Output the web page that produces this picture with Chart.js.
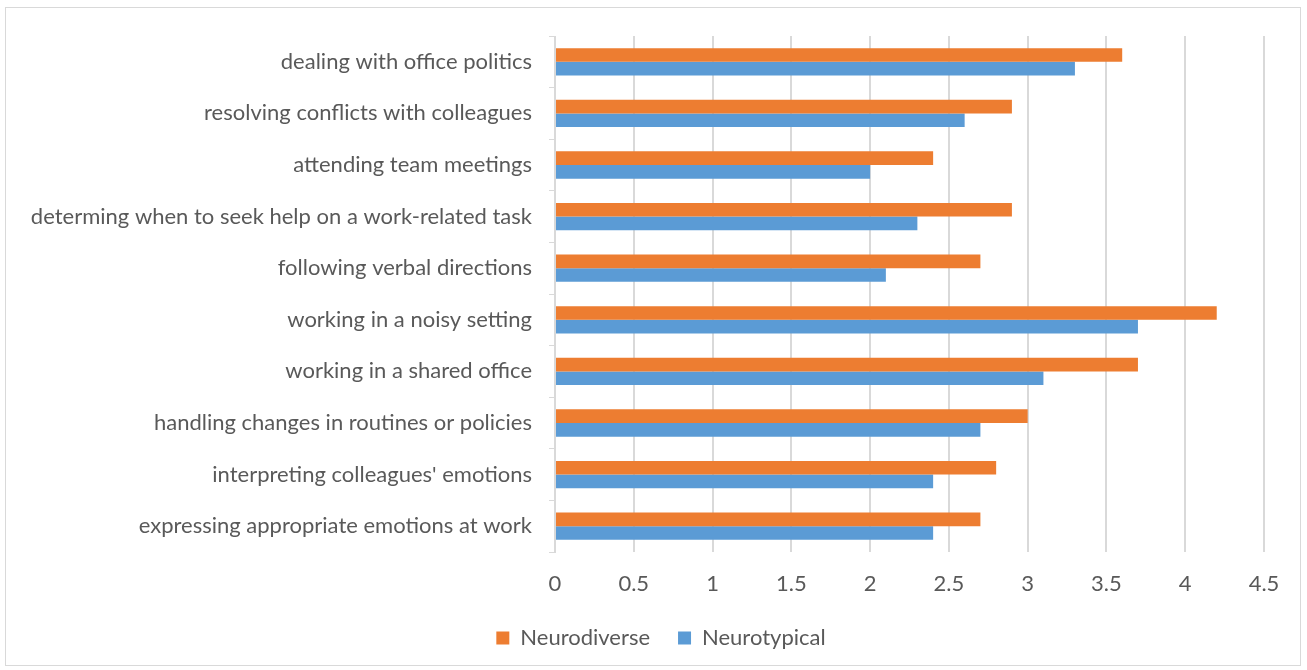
<!DOCTYPE html>
<html>
<head>
<meta charset="utf-8">
<script src="https://cdn.jsdelivr.net/npm/chart.js@4.4.0/dist/chart.umd.min.js"></script>
<style>
  html, body { margin: 0; padding: 0; background: #ffffff; overflow: hidden; }
  #wrap { position: absolute; left: 0; top: 0; width: 1307px; height: 670px; overflow: hidden; }
  #frame { position: absolute; left: 5px; top: 7px; width: 1296px; height: 659px; border: 1px solid #d9d9d9; box-sizing: border-box; pointer-events: none; }
  canvas { position: absolute; left: 0; top: 0; }
</style>
</head>
<body>
<div id="wrap">
  <canvas id="c" width="1307" height="700"></canvas>
  <div id="frame"></div>
</div>
<script>
const categories = [
  "dealing with office politics",
  "resolving conflicts with colleagues",
  "attending team meetings",
  "determing when to seek help on a work-related task",
  "following verbal directions",
  "working in a noisy setting",
  "working in a shared office",
  "handling changes in routines or policies",
  "interpreting colleagues' emotions",
  "expressing appropriate emotions at work"
];
const neurodiverse = [3.6, 2.9, 2.4, 2.9, 2.7, 4.2, 3.7, 3.0, 2.8, 2.7];
const neurotypical = [3.3, 2.6, 2.0, 2.3, 2.1, 3.7, 3.1, 2.7, 2.4, 2.4];
const seriesNames = ["Neurodiverse", "Neurotypical"];
const xTicks = [0, 0.5, 1, 1.5, 2, 2.5, 3, 3.5, 4, 4.5];

const FONT = "Lato, 'Open Sans', sans-serif";
const TEXT = "#595959";

// shift the legend block horizontally so it is centred like the reference
const legendShift = {
  id: 'legendShift',
  afterLayout(chart) {
    if (chart.legend) { chart.legend.left += 24; chart.legend.right += 24; }
  }
};

new Chart(document.getElementById('c'), {
  type: 'bar',
  data: {
    labels: categories,
    datasets: [
      { label: seriesNames[0], data: neurodiverse, backgroundColor: '#ED7D31', borderWidth: 0,
        categoryPercentage: 0.53, barPercentage: 1.0 },
      { label: seriesNames[1], data: neurotypical, backgroundColor: '#5B9BD5', borderWidth: 0,
        categoryPercentage: 0.53, barPercentage: 1.0 }
    ]
  },
  plugins: [legendShift],
  options: {
    indexAxis: 'y',
    responsive: false,
    animation: false,
    devicePixelRatio: 1,
    layout: { padding: { left: 10, right: 43, top: 36, bottom: 41 } },
    plugins: {
      legend: {
        position: 'bottom',
        labels: {
          font: { family: FONT, size: 22 },
          color: TEXT,
          boxWidth: 13,
          boxHeight: 13,
          padding: 28
        }
      },
      tooltip: { enabled: false }
    },
    scales: {
      x: {
        min: 0, max: 4.5,
        afterBuildTicks: (s) => { s.ticks = xTicks.map(v => ({ value: v })); },
        afterFit: (s) => { s.height = 47; },
        grid: { color: '#d9d9d9', lineWidth: 2, drawTicks: false },
        border: { display: false },
        ticks: {
          font: { family: FONT, size: 22 },
          color: TEXT,
          padding: 19,
          callback: (v) => String(v)
        }
      },
      y: {
        afterFit: (s) => { s.width = 545; },
        grid: { offset: true, drawOnChartArea: false, drawTicks: true, tickLength: 6, color: '#d9d9d9', lineWidth: 1 },
        border: { display: true, color: '#d9d9d9', width: 1 },
        ticks: {
          font: { family: FONT, size: 22 },
          color: TEXT,
          padding: 17
        }
      }
    }
  }
});
</script>
</body>
</html>
